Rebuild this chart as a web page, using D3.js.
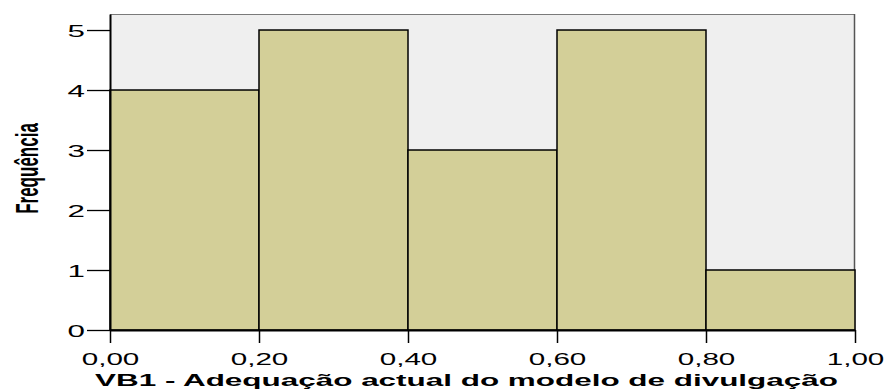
<!DOCTYPE html>
<html>
<head>
<meta charset="utf-8">
<script src="https://cdn.jsdelivr.net/npm/d3@7/dist/d3.min.js"></script>
<style>
  html, body { margin: 0; padding: 0; background: #fff; }
  svg { display: block; }
  text { font-family: "Liberation Sans", Arial, sans-serif; fill: #000; }
</style>
</head>
<body>
<svg id="chart" width="890" height="390"></svg>
<script>
// Histogram bins (lower/upper edge) and their frequencies
const binStart = [0.0, 0.2, 0.4, 0.6, 0.8];
const binEnd   = [0.2, 0.4, 0.6, 0.8, 1.0];
const counts   = [4, 5, 3, 5, 1];
const xTicks   = [0.0, 0.2, 0.4, 0.6, 0.8, 1.0];
const yTicks   = [0, 1, 2, 3, 4, 5];
const xTitle   = "VB1 - Adequação actual do modelo de divulgação";
const yTitle   = "Frequência";

const svg = d3.select("#chart");
const plotL = 110, plotR = 855, plotT = 14, plotB = 330;
const stretch = 1.9; // horizontal glyph stretch used for the labels

const x = d3.scaleLinear().domain([0, 1]).range([plotL, plotR]);
const y = d3.scaleLinear().domain([0, 5.267]).range([plotB, plotT]);

// plot background
svg.append("rect")
  .attr("x", plotL).attr("y", plotT)
  .attr("width", plotR - plotL).attr("height", plotB - plotT)
  .attr("fill", "#efefef");

// frame: top and right edges
svg.append("line").attr("x1", plotL).attr("x2", plotR).attr("y1", plotT + 0.5).attr("y2", plotT + 0.5)
  .attr("stroke", "#7a7a7a").attr("stroke-width", 1.2);
svg.append("line").attr("x1", plotR - 0.5).attr("x2", plotR - 0.5).attr("y1", plotT).attr("y2", plotB)
  .attr("stroke", "#555").attr("stroke-width", 1.5);

// bars
const bins = counts.map((c, i) => ({ x0: binStart[i], x1: binEnd[i], n: c }));
svg.append("g").selectAll("rect").data(bins).join("rect")
  .attr("x", d => x(d.x0))
  .attr("y", d => y(d.n))
  .attr("width", d => x(d.x1) - x(d.x0))
  .attr("height", d => y(0) - y(d.n))
  .attr("fill", "#d3cf98")
  .attr("stroke", "#000")
  .attr("stroke-width", 1.5);

// y axis
const yAxis = d3.axisLeft(y).tickValues(yTicks).tickSizeInner(23).tickSizeOuter(0)
  .tickPadding(0).tickFormat(d3.format("d"));
const gy = svg.append("g").attr("transform", `translate(${plotL},0)`).call(yAxis);
gy.select(".domain").attr("stroke", "#000").attr("stroke-width", 2);
gy.selectAll(".tick line").attr("stroke", "#000").attr("stroke-width", 1.3);
gy.selectAll(".tick text")
  .attr("x", null).attr("dy", null)
  .style("font-size", "16.5px")
  .attr("text-anchor", "end")
  .attr("dominant-baseline", "central")
  .attr("transform", `translate(-25,1) scale(${stretch},1)`);

// x axis
const xAxis = d3.axisBottom(x).tickValues(xTicks).tickSizeInner(13).tickSizeOuter(0).tickPadding(0)
  .tickFormat(d => d3.format(".2f")(d).replace(".", ","));
const gx = svg.append("g").attr("transform", `translate(0,${plotB})`).call(xAxis);
gx.select(".domain").attr("stroke", "#000").attr("stroke-width", 1.8);
gx.selectAll(".tick line").attr("stroke", "#000").attr("stroke-width", 1.5);
gx.selectAll(".tick text")
  .attr("y", null).attr("dy", null)
  .style("font-size", "16px")
  .attr("text-anchor", "middle")
  .attr("transform", `translate(0,34.5) scale(1.85,1)`);

// axis titles
svg.append("text")
  .attr("transform", `translate(${(95 + 838) / 2},386) scale(1.85,1)`)
  .attr("text-anchor", "middle")
  .style("font-size", "17px").style("font-weight", "bold")
  .text(xTitle);

svg.append("text")
  .attr("transform", `translate(38,${(122 + 215) / 2}) scale(1.8,1) rotate(-90)`)
  .attr("text-anchor", "middle")
  .style("font-size", "17px").style("font-weight", "bold")
  .text(yTitle);
</script>
</body>
</html>
